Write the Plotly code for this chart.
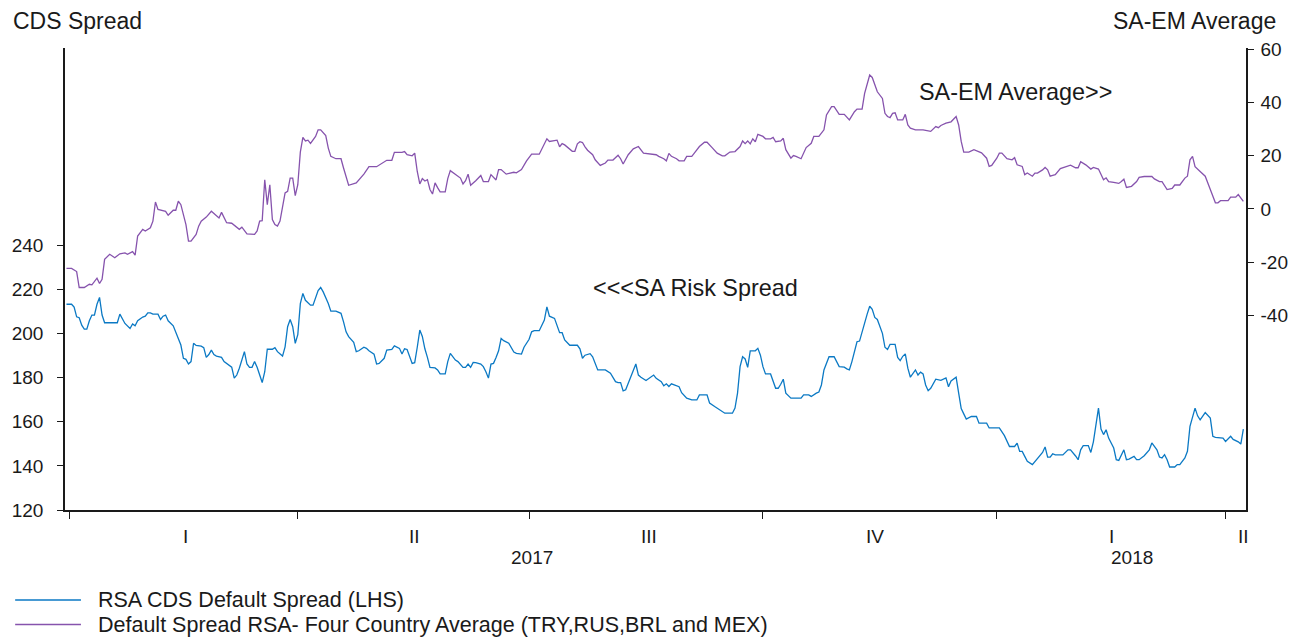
import plotly.graph_objects as go

# ---------------- data ----------------
cds_dates = [
    "2016-12-31", "2017-01-02", "2017-01-03", "2017-01-04", "2017-01-05", "2017-01-06", "2017-01-07", "2017-01-08",
    "2017-01-09", "2017-01-10", "2017-01-11", "2017-01-12", "2017-01-13", "2017-01-14", "2017-01-15", "2017-01-17",
    "2017-01-20", "2017-01-21", "2017-01-22", "2017-01-23", "2017-01-25", "2017-01-26", "2017-01-27", "2017-01-28",
    "2017-01-30", "2017-01-31", "2017-02-01", "2017-02-02", "2017-02-03", "2017-02-05", "2017-02-06", "2017-02-07",
    "2017-02-08", "2017-02-09", "2017-02-11", "2017-02-12", "2017-02-13", "2017-02-14", "2017-02-15", "2017-02-16",
    "2017-02-17", "2017-02-18", "2017-02-19", "2017-02-20", "2017-02-22", "2017-02-23", "2017-02-24", "2017-02-25",
    "2017-02-26", "2017-02-27", "2017-02-28", "2017-03-02", "2017-03-03", "2017-03-05", "2017-03-06", "2017-03-07",
    "2017-03-08", "2017-03-09", "2017-03-10", "2017-03-11", "2017-03-12", "2017-03-13", "2017-03-14", "2017-03-15",
    "2017-03-16", "2017-03-17", "2017-03-18", "2017-03-19", "2017-03-20", "2017-03-22", "2017-03-23", "2017-03-24",
    "2017-03-26", "2017-03-27", "2017-03-28", "2017-03-29", "2017-03-30", "2017-03-31", "2017-04-01", "2017-04-02",
    "2017-04-03", "2017-04-04", "2017-04-06", "2017-04-07", "2017-04-08", "2017-04-09", "2017-04-10", "2017-04-11",
    "2017-04-13", "2017-04-14", "2017-04-16", "2017-04-18", "2017-04-19", "2017-04-20", "2017-04-21", "2017-04-23",
    "2017-04-24", "2017-04-25", "2017-04-27", "2017-04-28", "2017-04-29", "2017-05-01", "2017-05-02", "2017-05-03",
    "2017-05-05", "2017-05-06", "2017-05-08", "2017-05-09", "2017-05-11", "2017-05-12", "2017-05-13", "2017-05-14",
    "2017-05-16", "2017-05-17", "2017-05-18", "2017-05-19", "2017-05-20", "2017-05-21", "2017-05-22", "2017-05-23",
    "2017-05-25", "2017-05-26", "2017-05-27", "2017-05-29", "2017-05-30", "2017-05-31", "2017-06-02", "2017-06-03",
    "2017-06-05", "2017-06-06", "2017-06-07", "2017-06-08", "2017-06-09", "2017-06-10", "2017-06-12", "2017-06-13",
    "2017-06-14", "2017-06-15", "2017-06-16", "2017-06-17", "2017-06-18", "2017-06-19", "2017-06-20", "2017-06-21",
    "2017-06-23", "2017-06-24", "2017-06-25", "2017-06-26", "2017-06-28", "2017-06-29", "2017-07-01", "2017-07-02",
    "2017-07-03", "2017-07-05", "2017-07-07", "2017-07-08", "2017-07-09", "2017-07-11", "2017-07-13", "2017-07-14",
    "2017-07-15", "2017-07-17", "2017-07-20", "2017-07-21", "2017-07-22", "2017-07-23", "2017-07-25", "2017-07-26",
    "2017-07-28", "2017-07-31", "2017-08-02", "2017-08-04", "2017-08-05", "2017-08-06", "2017-08-07", "2017-08-08",
    "2017-08-09", "2017-08-11", "2017-08-12", "2017-08-13", "2017-08-14", "2017-08-16", "2017-08-18", "2017-08-19",
    "2017-08-20", "2017-08-22", "2017-08-23", "2017-08-24", "2017-08-25", "2017-08-26", "2017-08-29", "2017-08-30",
    "2017-09-01", "2017-09-03", "2017-09-05", "2017-09-06", "2017-09-09", "2017-09-10", "2017-09-12", "2017-09-14",
    "2017-09-16", "2017-09-19", "2017-09-20", "2017-09-21", "2017-09-22", "2017-09-23", "2017-09-24", "2017-09-25",
    "2017-09-26", "2017-09-28", "2017-09-29", "2017-09-30", "2017-10-01", "2017-10-02", "2017-10-04", "2017-10-06",
    "2017-10-07", "2017-10-08", "2017-10-09", "2017-10-10", "2017-10-12", "2017-10-16", "2017-10-17", "2017-10-19",
    "2017-10-20", "2017-10-22", "2017-10-23", "2017-10-24", "2017-10-25", "2017-10-27", "2017-10-29", "2017-10-31",
    "2017-11-02", "2017-11-03", "2017-11-04", "2017-11-05", "2017-11-06", "2017-11-07", "2017-11-08", "2017-11-10",
    "2017-11-11", "2017-11-12", "2017-11-13", "2017-11-14", "2017-11-15", "2017-11-17", "2017-11-18", "2017-11-19",
    "2017-11-20", "2017-11-22", "2017-11-23", "2017-11-24", "2017-11-25", "2017-11-26", "2017-11-27", "2017-11-28",
    "2017-11-29", "2017-11-30", "2017-12-01", "2017-12-02", "2017-12-03", "2017-12-04", "2017-12-05", "2017-12-06",
    "2017-12-08", "2017-12-10", "2017-12-12", "2017-12-13", "2017-12-14", "2017-12-16", "2017-12-17", "2017-12-18",
    "2017-12-19", "2017-12-20", "2017-12-22", "2017-12-24", "2017-12-25", "2017-12-28", "2017-12-29", "2018-01-02",
    "2018-01-04", "2018-01-06", "2018-01-08", "2018-01-09", "2018-01-10", "2018-01-11", "2018-01-12", "2018-01-13",
    "2018-01-15", "2018-01-17", "2018-01-19", "2018-01-20", "2018-01-21", "2018-01-22", "2018-01-23", "2018-01-24",
    "2018-01-27", "2018-01-29", "2018-01-30", "2018-02-01", "2018-02-02", "2018-02-03", "2018-02-04", "2018-02-06",
    "2018-02-07", "2018-02-08", "2018-02-09", "2018-02-10", "2018-02-11", "2018-02-12", "2018-02-13", "2018-02-14",
    "2018-02-16", "2018-02-17", "2018-02-18", "2018-02-20", "2018-02-21", "2018-02-22", "2018-02-24", "2018-02-25",
    "2018-02-26", "2018-02-28", "2018-03-02", "2018-03-03", "2018-03-05", "2018-03-06", "2018-03-07", "2018-03-08",
    "2018-03-09", "2018-03-10", "2018-03-12", "2018-03-13", "2018-03-14", "2018-03-16", "2018-03-17", "2018-03-18",
    "2018-03-20", "2018-03-21", "2018-03-22", "2018-03-24", "2018-03-26", "2018-03-27", "2018-03-28", "2018-03-31",
    "2018-04-01", "2018-04-03", "2018-04-04", "2018-04-06", "2018-04-07", "2018-04-08",
]
cds_values = [
    213.3, 213.3, 212.0, 207.6, 207.2, 203.8, 202.0, 202.0,
    205.8, 208.4, 208.4, 213.3, 216.4, 208.4, 204.9, 204.9,
    204.9, 208.8, 206.6, 204.6, 202.3, 204.4, 203.5, 205.8,
    207.5, 207.9, 209.4, 209.4, 208.8, 208.8, 206.4, 207.9,
    208.4, 205.8, 203.5, 200.5, 197.8, 194.8, 188.8, 188.3,
    186.2, 187.3, 195.6, 194.6, 194.3, 193.6, 189.2, 190.5,
    192.5, 190.5, 189.8, 189.2, 187.3, 185.8, 184.8, 179.8,
    181.2, 184.3, 188.3, 191.8, 186.2, 184.7, 184.7, 187.3,
    184.7, 181.2, 177.8, 182.7, 192.9, 192.9, 193.6, 191.8,
    189.8, 194.0, 203.1, 206.4, 203.1, 195.6, 199.5, 213.6,
    218.2, 215.1, 212.9, 212.9, 216.6, 219.5, 220.9, 218.9,
    213.6, 210.2, 210.2, 209.2, 205.3, 200.8, 198.6, 196.0,
    191.8, 192.2, 193.8, 193.3, 192.2, 190.7, 186.2, 186.5,
    188.8, 192.5, 192.8, 194.4, 193.3, 190.7, 193.1, 192.8,
    186.5, 186.8, 193.8, 201.6, 198.7, 193.1, 189.2, 184.7,
    184.4, 183.5, 181.7, 181.7, 187.3, 191.0, 188.0, 187.3,
    184.7, 184.7, 186.2, 184.7, 186.9, 186.8, 186.2, 185.0,
    182.7, 179.8, 186.2, 186.5, 189.2, 192.2, 197.8, 196.8,
    195.6, 193.6, 191.6, 191.0, 190.7, 193.8, 197.4, 200.8,
    201.3, 201.3, 206.1, 212.1, 207.9, 206.9, 200.4, 200.4,
    197.1, 194.7, 194.7, 193.1, 188.8, 190.2, 190.9, 189.5,
    183.5, 183.5, 182.0, 178.2, 177.8, 177.8, 174.0, 174.5,
    177.5, 183.5, 186.2, 181.2, 180.2, 178.7, 180.2, 181.2,
    179.7, 178.2, 176.3, 177.2, 176.0, 177.2, 175.9, 173.2,
    170.7, 169.9, 169.9, 172.2, 172.2, 168.5, 166.9, 165.4,
    163.9, 163.9, 166.2, 173.0, 185.0, 189.5, 188.5, 184.7,
    192.2, 192.2, 193.3, 190.2, 185.0, 181.7, 181.7, 175.2,
    175.2, 177.0, 179.3, 173.0, 170.7, 170.7, 172.2, 172.2,
    171.5, 173.0, 173.5, 176.7, 183.5, 189.5, 189.5, 185.0,
    184.8, 184.0, 183.5, 187.3, 192.2, 196.3, 196.6, 205.3,
    208.8, 212.4, 211.0, 207.3, 206.4, 200.1, 193.8, 192.8,
    195.1, 195.1, 189.2, 187.7, 189.7, 190.8, 184.3, 180.2,
    182.0, 183.5, 181.2, 182.5, 181.7, 176.7, 174.1, 175.2,
    179.3, 178.8, 179.9, 175.9, 178.5, 180.2, 173.0, 166.0,
    163.6, 161.2, 162.4, 162.4, 159.4, 159.4, 157.2, 157.2,
    153.7, 148.8, 148.8, 150.3, 146.6, 146.6, 144.3, 142.1,
    140.6, 143.1, 146.1, 148.6, 144.0, 144.0, 145.5, 145.0,
    145.0, 147.3, 147.3, 144.5, 142.8, 147.3, 149.2, 149.2,
    146.1, 150.9, 157.9, 166.2, 156.7, 154.2, 156.4, 152.6,
    148.1, 142.8, 142.5, 147.3, 142.8, 143.1, 144.3, 142.8,
    142.8, 144.6, 147.3, 150.4, 147.3, 144.0, 143.6, 145.1,
    142.8, 139.5, 139.5, 140.6, 140.6, 143.6, 146.6, 157.9,
    166.2, 162.7, 160.9, 164.2, 161.7, 153.4, 152.9, 152.6,
    151.1, 153.4, 152.0, 150.9, 149.9, 156.7,
]

em_dates = [
    "2016-12-31", "2017-01-02", "2017-01-04", "2017-01-05", "2017-01-07", "2017-01-09", "2017-01-10", "2017-01-12",
    "2017-01-13", "2017-01-14", "2017-01-15", "2017-01-17", "2017-01-19", "2017-01-21", "2017-01-23", "2017-01-24",
    "2017-01-26", "2017-01-27", "2017-01-28", "2017-01-30", "2017-01-31", "2017-02-02", "2017-02-03", "2017-02-04",
    "2017-02-05", "2017-02-08", "2017-02-09", "2017-02-11", "2017-02-12", "2017-02-13", "2017-02-14", "2017-02-16",
    "2017-02-17", "2017-02-18", "2017-02-20", "2017-02-21", "2017-02-22", "2017-02-24", "2017-02-26", "2017-02-28",
    "2017-03-01", "2017-03-02", "2017-03-04", "2017-03-06", "2017-03-08", "2017-03-09", "2017-03-10", "2017-03-12",
    "2017-03-15", "2017-03-16", "2017-03-17", "2017-03-18", "2017-03-19", "2017-03-20", "2017-03-21", "2017-03-22",
    "2017-03-23", "2017-03-24", "2017-03-25", "2017-03-26", "2017-03-27", "2017-03-28", "2017-03-29", "2017-03-30",
    "2017-03-31", "2017-04-01", "2017-04-02", "2017-04-03", "2017-04-04", "2017-04-05", "2017-04-06", "2017-04-08",
    "2017-04-09", "2017-04-10", "2017-04-12", "2017-04-13", "2017-04-14", "2017-04-16", "2017-04-18", "2017-04-19",
    "2017-04-20", "2017-04-21", "2017-04-24", "2017-04-27", "2017-04-29", "2017-05-02", "2017-05-06", "2017-05-08",
    "2017-05-09", "2017-05-12", "2017-05-13", "2017-05-14", "2017-05-16", "2017-05-17", "2017-05-18", "2017-05-19",
    "2017-05-20", "2017-05-21", "2017-05-22", "2017-05-23", "2017-05-24", "2017-05-25", "2017-05-26", "2017-05-27",
    "2017-05-29", "2017-05-30", "2017-05-31", "2017-06-02", "2017-06-04", "2017-06-05", "2017-06-06", "2017-06-07",
    "2017-06-08", "2017-06-10", "2017-06-12", "2017-06-13", "2017-06-15", "2017-06-16", "2017-06-17", "2017-06-18",
    "2017-06-19", "2017-06-20", "2017-06-22", "2017-06-24", "2017-06-25", "2017-06-26", "2017-06-28", "2017-06-30",
    "2017-07-02", "2017-07-05", "2017-07-06", "2017-07-08", "2017-07-09", "2017-07-12", "2017-07-13", "2017-07-14",
    "2017-07-15", "2017-07-16", "2017-07-18", "2017-07-19", "2017-07-20", "2017-07-21", "2017-07-22", "2017-07-23",
    "2017-07-24", "2017-07-26", "2017-07-27", "2017-07-29", "2017-07-31", "2017-08-01", "2017-08-03", "2017-08-05",
    "2017-08-06", "2017-08-07", "2017-08-09", "2017-08-11", "2017-08-13", "2017-08-15", "2017-08-18", "2017-08-20",
    "2017-08-21", "2017-08-23", "2017-08-24", "2017-08-25", "2017-08-26", "2017-08-28", "2017-08-29", "2017-08-31",
    "2017-09-01", "2017-09-03", "2017-09-04", "2017-09-06", "2017-09-08", "2017-09-09", "2017-09-11", "2017-09-13",
    "2017-09-15", "2017-09-16", "2017-09-18", "2017-09-20", "2017-09-22", "2017-09-23", "2017-09-24", "2017-09-25",
    "2017-09-26", "2017-09-27", "2017-09-28", "2017-09-29", "2017-10-01", "2017-10-02", "2017-10-04", "2017-10-05",
    "2017-10-06", "2017-10-08", "2017-10-09", "2017-10-10", "2017-10-12", "2017-10-13", "2017-10-14", "2017-10-16",
    "2017-10-18", "2017-10-20", "2017-10-21", "2017-10-23", "2017-10-25", "2017-10-26", "2017-10-28", "2017-10-29",
    "2017-10-31", "2017-11-02", "2017-11-04", "2017-11-06", "2017-11-07", "2017-11-09", "2017-11-10", "2017-11-11",
    "2017-11-12", "2017-11-13", "2017-11-14", "2017-11-15", "2017-11-17", "2017-11-18", "2017-11-19", "2017-11-20",
    "2017-11-21", "2017-11-22", "2017-11-23", "2017-11-25", "2017-11-26", "2017-11-27", "2017-11-28", "2017-11-30",
    "2017-12-03", "2017-12-06", "2017-12-08", "2017-12-09", "2017-12-10", "2017-12-12", "2017-12-14", "2017-12-16",
    "2017-12-17", "2017-12-18", "2017-12-19", "2017-12-21", "2017-12-23", "2017-12-24", "2017-12-26", "2017-12-28",
    "2017-12-29", "2017-12-30", "2018-01-01", "2018-01-02", "2018-01-03", "2018-01-05", "2018-01-07", "2018-01-08",
    "2018-01-09", "2018-01-11", "2018-01-12", "2018-01-13", "2018-01-14", "2018-01-15", "2018-01-16", "2018-01-17",
    "2018-01-19", "2018-01-20", "2018-01-21", "2018-01-22", "2018-01-23", "2018-01-24", "2018-01-26", "2018-01-29",
    "2018-01-30", "2018-02-01", "2018-02-02", "2018-02-03", "2018-02-05", "2018-02-07", "2018-02-08", "2018-02-10",
    "2018-02-12", "2018-02-13", "2018-02-14", "2018-02-16", "2018-02-18", "2018-02-19", "2018-02-20", "2018-02-21",
    "2018-02-23", "2018-02-25", "2018-02-26", "2018-02-28", "2018-03-03", "2018-03-04", "2018-03-06", "2018-03-07",
    "2018-03-08", "2018-03-09", "2018-03-11", "2018-03-12", "2018-03-14", "2018-03-16", "2018-03-17", "2018-03-18",
    "2018-03-19", "2018-03-20", "2018-03-22", "2018-03-24", "2018-03-26", "2018-03-28", "2018-03-29", "2018-03-30",
    "2018-04-02", "2018-04-03", "2018-04-05", "2018-04-06", "2018-04-08",
]
em_values = [
    -22.4, -22.4, -23.6, -29.6, -29.6, -28.4, -28.6, -26.1,
    -28.1, -26.5, -19.0, -17.1, -18.4, -16.9, -16.6, -17.1,
    -16.1, -17.4, -10.2, -7.7, -8.3, -7.1, -4.6, 2.6,
    -0.2, -0.9, -2.4, -0.5, -0.5, 2.9, 1.6, -5.9,
    -12.1, -12.1, -9.6, -6.5, -4.6, -3.1, -0.9, -2.4,
    -3.4, -1.3, -5.2, -5.4, -7.1, -7.7, -6.9, -9.4,
    -9.6, -8.3, -4.6, -4.4, 11.0, 1.6, 9.1, -4.0,
    -5.9, -6.5, -4.6, 0.4, 6.0, 6.6, 11.6, 11.6,
    5.0, 9.1, 21.4, 26.9, 25.6, 25.9, 24.7, 27.3,
    29.8, 29.8, 27.6, 22.9, 19.8, 18.9, 18.9, 15.4,
    12.3, 8.9, 9.8, 13.1, 15.9, 15.9, 18.3, 18.3,
    21.3, 21.3, 21.6, 20.4, 20.0, 21.0, 14.1, 9.4,
    11.4, 10.5, 11.0, 7.3, 5.6, 9.8, 8.0, 6.4,
    6.4, 11.4, 14.4, 12.9, 11.6, 9.4, 10.6, 13.1,
    8.9, 10.6, 12.6, 10.3, 10.3, 12.9, 12.0, 10.9,
    14.8, 14.8, 13.1, 13.4, 13.8, 13.6, 14.8, 18.1,
    20.6, 20.6, 22.6, 26.4, 25.4, 25.9, 23.4, 24.6,
    24.1, 23.4, 21.7, 21.7, 24.5, 25.3, 25.0, 23.4,
    22.1, 20.4, 18.5, 16.4, 17.3, 18.4, 18.4, 20.2,
    18.9, 16.9, 20.4, 22.6, 23.5, 21.0, 20.6, 20.4,
    19.8, 18.9, 18.1, 20.9, 19.8, 18.9, 18.1, 18.1,
    19.8, 19.8, 21.0, 23.5, 25.1, 25.1, 23.1, 21.0,
    20.0, 20.0, 21.4, 21.6, 23.5, 25.6, 24.6, 25.6,
    24.5, 26.4, 25.3, 28.1, 27.3, 26.4, 26.4, 26.9,
    25.3, 25.6, 26.6, 22.3, 19.1, 20.1, 19.8, 18.9,
    23.1, 24.7, 27.3, 27.3, 29.8, 35.4, 38.5, 38.5,
    35.6, 35.6, 33.5, 36.6, 37.6, 37.6, 43.5, 47.2,
    50.4, 49.5, 46.6, 44.1, 41.6, 36.0, 34.8, 34.4,
    36.0, 36.2, 33.5, 33.5, 35.6, 31.6, 30.4, 29.8,
    29.8, 29.2, 31.0, 30.6, 31.4, 32.3, 32.8, 34.8,
    31.6, 25.4, 21.4, 21.4, 22.3, 21.9, 21.1, 19.1,
    16.0, 16.4, 19.1, 21.0, 21.0, 18.9, 18.5, 19.3,
    16.6, 16.0, 12.9, 13.5, 12.9, 12.3, 13.5, 13.5,
    14.7, 15.6, 14.7, 12.3, 12.6, 12.9, 15.2, 16.1,
    16.5, 15.5, 15.5, 17.8, 16.6, 15.0, 15.6, 15.0,
    11.0, 11.7, 10.3, 10.0, 9.6, 10.3, 11.2, 8.1,
    8.5, 10.3, 11.9, 12.2, 12.2, 11.3, 10.3, 10.3,
    9.0, 7.3, 7.7, 9.0, 9.0, 11.6, 12.3, 18.5,
    19.8, 15.9, 14.1, 12.3, 7.3, 2.3, 2.3, 3.1,
    3.1, 4.4, 4.4, 5.4, 2.8,
]

series_names = [
    "RSA CDS Default Spread (LHS)",
    "Default Spread RSA- Four Country Average (TRY,RUS,BRL and MEX)",
]
left_ticks = [120, 140, 160, 180, 200, 220, 240]
right_ticks = [-40, -20, 0, 20, 40, 60]
quarter_starts = ["2017-01-01", "2017-04-01", "2017-07-01", "2017-10-01", "2018-01-01", "2018-04-01"]
quarter_labels = ["I", "II", "III", "IV", "I", "II"]
quarter_label_dates = ["2017-02-16", "2017-05-17", "2017-08-17", "2017-11-14", "2018-02-15", "2018-04-08"]
year_labels = ["2017", "2018"]
year_label_dates = ["2017-07-02", "2018-02-23"]

# ---------------- styling ----------------
BLUE = "#0b79c4"
PURPLE = "#8653ad"
INK = "#1a1a1a"
FONT = "Liberation Sans, Arial, sans-serif"

fig = go.Figure()
fig.add_trace(go.Scatter(x=cds_dates, y=cds_values, mode="lines", name=series_names[0],
                         line=dict(color=BLUE, width=1.3), yaxis="y", showlegend=False))
fig.add_trace(go.Scatter(x=em_dates, y=em_values, mode="lines", name=series_names[1],
                         line=dict(color=PURPLE, width=1.3), yaxis="y2", showlegend=False))

annotations = []
for lab, d in zip(quarter_labels, quarter_label_dates):
    annotations.append(dict(x=d, y=-0.058, xref="x", yref="paper", text=lab, showarrow=False,
                            font=dict(size=19, color=INK, family=FONT), xanchor="center", yanchor="middle"))
for lab, d in zip(year_labels, year_label_dates):
    annotations.append(dict(x=d, y=-0.102, xref="x", yref="paper", text=lab, showarrow=False,
                            font=dict(size=19, color=INK, family=FONT), xanchor="center", yanchor="middle"))
# axis titles
annotations.append(dict(x=-0.0456, y=1.058, xref="paper", yref="paper", text="CDS Spread", showarrow=False,
                        font=dict(size=23, color=INK, family=FONT), xanchor="left", yanchor="middle"))
annotations.append(dict(x=1.027, y=1.058, xref="paper", yref="paper", text="SA-EM Average", showarrow=False,
                        font=dict(size=23, color=INK, family=FONT), xanchor="right", yanchor="middle"))
# in-plot labels
annotations.append(dict(x=0.7213, y=0.905, xref="paper", yref="paper", text="SA-EM Average>>", showarrow=False,
                        font=dict(size=23.4, color=INK, family=FONT), xanchor="left", yanchor="middle"))
annotations.append(dict(x=0.4451, y=0.4805, xref="paper", yref="paper", text="<<<SA Risk Spread", showarrow=False,
                        font=dict(size=23.4, color=INK, family=FONT), xanchor="left", yanchor="middle"))
# custom legend
shapes = []
for i, (nm, col) in enumerate(zip(series_names, [BLUE, PURPLE])):
    yy = -0.195 - 0.053 * i
    shapes.append(dict(type="line", xref="paper", yref="paper", x0=-0.0422, x1=0.0135, y0=yy, y1=yy,
                       line=dict(color=col, width=1.5)))
    annotations.append(dict(x=0.0265, y=yy, xref="paper", yref="paper", text=nm, showarrow=False,
                            font=dict(size=21.5, color=INK, family=FONT), xanchor="left", yanchor="middle"))

fig.update_layout(
    width=1311, height=637,
    margin=dict(l=62, r=65, t=48, b=127),
    plot_bgcolor="white", paper_bgcolor="white",
    font=dict(family=FONT, size=19, color=INK),
    xaxis=dict(type="date", range=["2016-12-30 10:00", "2018-04-09 01:00"],
               showgrid=False, zeroline=False, showline=True, linecolor=INK, linewidth=1.5,
               tickmode="array", tickvals=quarter_starts, showticklabels=False,
               ticks="outside", ticklen=7, tickwidth=1.2, tickcolor=INK),
    yaxis=dict(range=[120, 329.5], showgrid=False, zeroline=False, showline=True, linecolor=INK, linewidth=1.5,
               tickmode="array", tickvals=left_ticks, ticks="outside", ticklen=6, tickwidth=1.2, tickcolor=INK,
               ticklabelstandoff=10, tickfont=dict(size=19, color=INK, family=FONT)),
    yaxis2=dict(range=[-113.4, 60.6], overlaying="y", side="right", showgrid=False, zeroline=False,
                showline=True, linecolor=INK, linewidth=1.5,
                tickmode="array", tickvals=right_ticks, ticktext=[str(v) for v in right_ticks],
                ticks="outside", ticklen=6, tickwidth=1.2, tickcolor=INK,
                ticklabelstandoff=3, tickfont=dict(size=19, color=INK, family=FONT)),
    annotations=annotations,
    shapes=shapes,
)

fig.write_html("out.html", config={"displayModeBar": False},
               post_script="document.body.style.margin='0';document.body.style.overflow='hidden';")
